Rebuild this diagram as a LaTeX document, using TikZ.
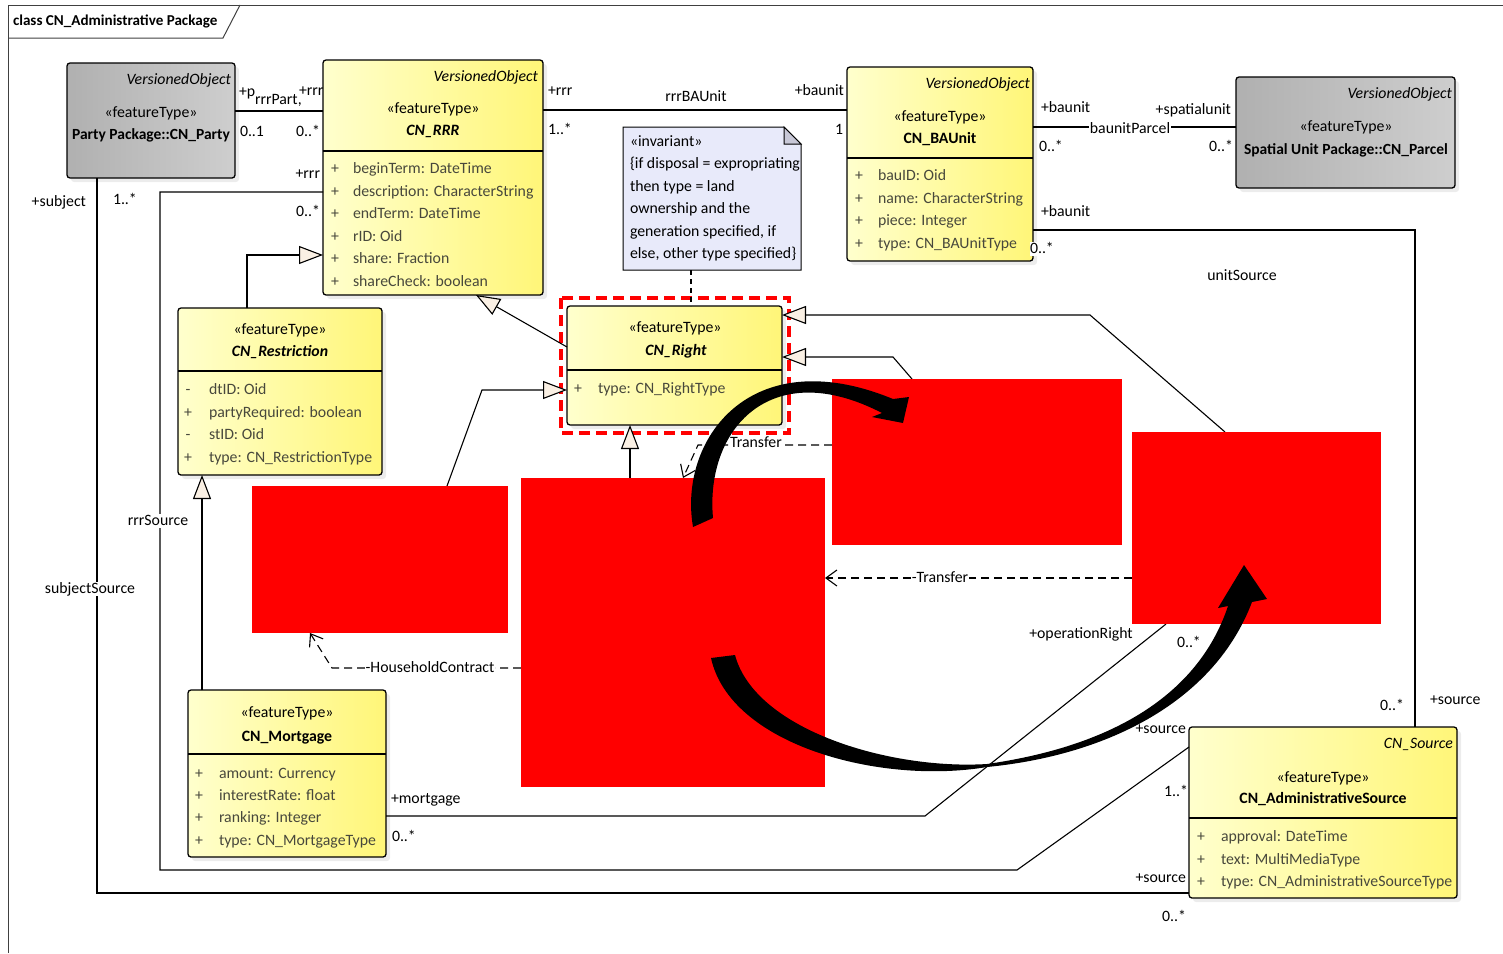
\documentclass[tikz,border=0pt]{standalone}
\usepackage{fontspec}
\setmainfont{Carlito}
\usetikzlibrary{arrows.meta,shadows,calc}
\pgfdeclarelayer{front}
\pgfsetlayers{main,front}
\definecolor{yelL}{RGB}{255,255,205}
\definecolor{yelR}{RGB}{255,246,120}
\definecolor{grayL}{RGB}{206,206,206}
\definecolor{grayR}{RGB}{176,176,176}
\definecolor{genfill}{RGB}{250,240,228}
\definecolor{notefill}{RGB}{232,234,250}
\definecolor{notefold}{RGB}{200,200,215}
\definecolor{attrc}{RGB}{72,72,60}
\definecolor{redact}{RGB}{255,0,0}
\newcommand{\UA}[6]{\node[attr] (#1m) at (#2,#4) {#5}; \node[attr,anchor=west] (#1t) at (#3,#4) {#6};}
\begin{document}
\begin{tikzpicture}[x=1pt,y=-1pt, font=\fontsize{15.8}{19}\selectfont,
  box/.style={draw=black, line width=1.3pt, rounded corners=3pt, inner sep=0pt, outer sep=0pt, anchor=north west,
    drop shadow={shadow xshift=4pt,shadow yshift=-4pt,fill=black!15}},
  ybox/.style={box, left color=yelL, right color=yelR},
  gbox/.style={box, left color=grayR, right color=grayL},
  txt/.style={inner sep=0pt, outer sep=0pt, text height=11pt, text depth=3pt},
  attr/.style={txt, text=attrc},
  hdr/.style={txt, text=black},
  lbl/.style={txt, text=black},
  wlbl/.style={txt, text=black, fill=white, inner xsep=1pt},
  conn/.style={line width=1.1pt},
  gen/.style={conn, -{Triangle[length=24pt,width=18pt,fill=genfill]}},
  dep/.style={conn, dash pattern=on 8pt off 5pt, -{Straight Barb[length=11pt,width=16pt]}},
  redbox/.style={fill=redact, draw=none, inner sep=0pt, outer sep=0pt, anchor=north west},
  divl/.style={line width=1.3pt},
]
\useasboundingbox (0,0) rectangle (1503,953);
% frame
\draw[line width=1pt, black!75] (8,953) -- (8,5) -- (1503,5);
\draw[line width=1pt, black!75] (8,38) -- (223,38) -- (240,5);
\node[lbl, anchor=west, font=\fontsize{15.1}{17}\selectfont\bfseries] (title) at (13,21) {class CN\_Administrative Package};

% front layer: redactions and swooshes
\begin{pgfonlayer}{front}
\node[redbox, minimum width=256pt, minimum height=147pt] (r1) at (252,486) {};
\node[redbox, minimum width=304pt, minimum height=309pt] (r2) at (521,478) {};
\node[redbox, minimum width=290pt, minimum height=166pt] (r3) at (832,379) {};
\node[redbox, minimum width=249pt, minimum height=192pt] (r4) at (1132,432) {};
\fill[black] (693,527) .. controls (678,440) and (750,340) .. (893,399) -- (909,397) -- (903,423) -- (872,417) -- (882,413)
  .. controls (770,355) and (705,430) .. (713,518) -- cycle;
\fill[black] (711,658) .. controls (730,745) and (880,785) .. (987,767) .. controls (1110,755) and (1215,700) .. (1252,602)
  -- (1267,599) -- (1244,565) -- (1218,608) -- (1228,606)
  .. controls (1200,690) and (1120,745) .. (987,764) .. controls (890,770) and (755,730) .. (735,655) -- cycle;
\end{pgfonlayer}

% boxes
\node[gbox, minimum width=168pt, minimum height=115pt] (party) at (67,63) {};
\node[ybox, minimum width=220pt, minimum height=235pt] (rrr) at (323,60) {};
\node[ybox, minimum width=186pt, minimum height=194pt] (baunit) at (847,67) {};
\node[gbox, minimum width=219pt, minimum height=111pt] (parcel) at (1236,77) {};
\draw[red, line width=4pt, dash pattern=on 11pt off 6pt] (561,298) rectangle (789,433);
\node[ybox, minimum width=215pt, minimum height=119pt] (right) at (567,306) {};
\node[ybox, minimum width=204pt, minimum height=167pt] (restr) at (178,308) {};
\node[ybox, minimum width=198pt, minimum height=167pt] (mort) at (188,690) {};
\node[ybox, minimum width=268pt, minimum height=171pt] (src) at (1189,727) {};

% dividers
\draw[divl] (rrr.west |- 0,151) -- (rrr.east |- 0,151);
\draw[divl] (baunit.west |- 0,158) -- (baunit.east |- 0,158);
\draw[divl] (right.west |- 0,370) -- (right.east |- 0,370);
\draw[divl] (restr.west |- 0,371) -- (restr.east |- 0,371);
\draw[divl] (mort.west |- 0,754) -- (mort.east |- 0,754);
\draw[divl] (src.west |- 0,818) -- (src.east |- 0,818);

% note
\node[inner sep=0pt, outer sep=0pt, minimum width=178pt, minimum height=143pt, anchor=north west] (note) at (623,127) {};
\draw[line width=1pt, fill=notefill] (note.north west) -- ([xshift=-17pt]note.north east) -- ([yshift=-17pt]note.north east) -- (note.south east) -- (note.south west) -- cycle;
\draw[line width=1pt, fill=notefold] ([xshift=-17pt]note.north east) -- ([xshift=-17pt,yshift=-17pt]note.north east) -- ([yshift=-17pt]note.north east) -- cycle;
\node[lbl, anchor=west] (n1) at (630,142) {«invariant»};
\node[lbl, anchor=west] (n2) at (630,164) {\{if disposal = expropriating};
\node[lbl, anchor=west] (n3) at (630,187) {then type = land};
\node[lbl, anchor=west] (n4) at (630,209) {ownership and the};
\node[lbl, anchor=west] (n5) at (630,232) {generation specified, if};
\node[lbl, anchor=west] (n6) at (630,254) {else, other type specified\}};
\draw[conn, dash pattern=on 5pt off 4pt] (note.south -| 691,0) -- (right.north -| 691,0);

% box headers
\node[hdr, anchor=east, font=\fontsize{15.8}{19}\selectfont\itshape] (ph1) at (231,80) {VersionedObject};
\node[hdr] (ph2) at (151,113) {«featureType»};
\node[hdr, font=\fontsize{15.5}{19}\selectfont\bfseries] (ph3) at (151,135) {Party Package::CN\_Party};

\node[hdr, anchor=east, font=\fontsize{15.8}{19}\selectfont\itshape] (rh1) at (538,77) {VersionedObject};
\node[hdr] (rh2) at (433,109) {«featureType»};
\node[hdr, font=\fontsize{15.8}{19}\selectfont\bfseries\itshape] (rh3) at (433,131) {CN\_RRR};

\node[hdr, anchor=east, font=\fontsize{15.8}{19}\selectfont\itshape] (bh1) at (1030,84) {VersionedObject};
\node[hdr] (bh2) at (940,117) {«featureType»};
\node[hdr, font=\fontsize{15.8}{19}\selectfont\bfseries] (bh3) at (940,139) {CN\_BAUnit};

\node[hdr, anchor=east, font=\fontsize{15.8}{19}\selectfont\itshape] (sh1) at (1452,94) {VersionedObject};
\node[hdr] (sh2) at (1346,127) {«featureType»};
\node[hdr, font=\fontsize{15.5}{19}\selectfont\bfseries] (sh3) at (1346,150) {Spatial Unit Package::CN\_Parcel};

\node[hdr] (gh2) at (675,328) {«featureType»};
\node[hdr, font=\fontsize{15.8}{19}\selectfont\bfseries\itshape] (gh3) at (676,351) {CN\_Right};

\node[hdr] (th2) at (280,330) {«featureType»};
\node[hdr, font=\fontsize{15.8}{19}\selectfont\bfseries\itshape] (th3) at (280,352) {CN\_Restriction};

\node[hdr] (mh2) at (287,713) {«featureType»};
\node[hdr, font=\fontsize{15.8}{19}\selectfont\bfseries] (mh3) at (287,737) {CN\_Mortgage};

\node[hdr, anchor=east, font=\fontsize{15.8}{19}\selectfont\itshape] (ah1) at (1453,744) {CN\_Source};
\node[hdr] (ah2) at (1323,778) {«featureType»};
\node[hdr, font=\fontsize{15.8}{19}\selectfont\bfseries] (ah3) at (1323,799) {CN\_AdministrativeSource};

% attributes
\UA{ra1}{335}{353}{169}{+}{beginTerm: DateTime}
\UA{ra2}{335}{353}{192}{+}{description: CharacterString}
\UA{ra3}{335}{353}{214}{+}{endTerm: DateTime}
\UA{ra4}{335}{353}{237}{+}{rID: Oid}
\UA{ra5}{335}{353}{259}{+}{share: Fraction}
\UA{ra6}{335}{353}{282}{+}{shareCheck: boolean}
\UA{ba1}{859}{878}{176}{+}{bauID: Oid}
\UA{ba2}{859}{878}{199}{+}{name: CharacterString}
\UA{ba3}{859}{878}{221}{+}{piece: Integer}
\UA{ba4}{859}{878}{244}{+}{type: CN\_BAUnitType}
\UA{ga1}{578}{598}{389}{+}{type: CN\_RightType}
\UA{ta1}{188}{209}{390}{-}{dtID: Oid}
\UA{ta2}{188}{209}{413}{+}{partyRequired: boolean}
\UA{ta3}{188}{209}{435}{-}{stID: Oid}
\UA{ta4}{188}{209}{458}{+}{type: CN\_RestrictionType}
\UA{ma1}{199}{219}{774}{+}{amount: Currency}
\UA{ma2}{199}{219}{796}{+}{interestRate: float}
\UA{ma3}{199}{219}{818}{+}{ranking: Integer}
\UA{ma4}{199}{219}{841}{+}{type: CN\_MortgageType}
\UA{aa1}{1201}{1221}{837}{+}{approval: DateTime}
\UA{aa2}{1201}{1221}{860}{+}{text: MultiMediaType}
\UA{aa3}{1201}{1221}{882}{+}{type: CN\_AdministrativeSourceType}

% associations
\draw[conn] (party.east |- 0,111) -- (rrr.west |- 0,111);
\draw[conn] (rrr.east |- 0,110) -- (baunit.west |- 0,110);
\draw[conn] (baunit.east |- 0,127) -- (parcel.west |- 0,127);
\draw[conn] (baunit.east |- 0,230) -| (src.north -| 1415,0);
\draw[conn] (rrr.west |- 0,192) -| (160,870) -- (1017,870) -- (src.west |- 0,747);
\draw[conn] (party.south -| 97,0) |- (src.west |- 0,893);
\draw[conn] (mort.east |- 0,816) -- (925,816) -- (r4.south -| 1166,0);

% generalizations
\draw[gen] (restr.north -| 247,0) |- (rrr.west |- 0,255);
\draw[gen] (right.west |- 0,347) -- (rrr.south -| 476,0);
\draw[gen] (r1.north -| 447,0) -- (482,390) -- (right.west |- 0,390);
\draw[gen] (r2.north -| 630,0) -- (right.south -| 630,0);
\draw[gen] (r3.north -| 912,0) -- (893,357) -- (right.east |- 0,357);
\draw[gen] (r4.north -| 1225,0) -- (1090,315) -- (right.east |- 0,315);
\draw[gen] (mort.north -| 202,0) -- (restr.south -| 202,0);

% dependencies
\draw[dep] (r3.west |- 0,445) -- (698,445) -- (r2.north -| 683,0);
\draw[dep] (r4.west |- 0,578) -- (r2.east |- 0,578);
\draw[dep] (r2.west |- 0,668) -- (332,668) -- (r1.south -| 310,0);

% connector labels
\node[lbl, anchor=west] (l1) at (239,92) {+p};
\node[lbl, anchor=west] (l2) at (255,100) {rrrPart,};
\node[lbl, anchor=west] (l3) at (299,91) {+rrr};
\node[lbl, anchor=west] (l4) at (240,132) {0..1};
\node[lbl, anchor=east] (l5) at (320,132) {0..*};
\node[lbl, anchor=east] (l6) at (320,174) {+rrr};
\node[lbl, anchor=east] (l7) at (320,212) {0..*};
\node[lbl, anchor=east] (l8) at (86,202) {+subject};
\node[lbl, anchor=west] (l9) at (113,200) {1..*};
\node[lbl, anchor=west] (l10) at (548,91) {+rrr};
\node[lbl] (l11) at (696,97) {rrrBAUnit};
\node[lbl, anchor=east] (l12) at (844,91) {+baunit};
\node[lbl, anchor=west] (l13) at (548,130) {1..*};
\node[lbl, anchor=east] (l14) at (843,130) {1};
\node[lbl, anchor=west] (l15) at (1041,108) {+baunit};
\node[lbl, anchor=east] (l16) at (1231,110) {+spatialunit};
\node[wlbl] (l17) at (1130,129) {baunitParcel};
\node[lbl, anchor=west] (l18) at (1039,147) {0..*};
\node[lbl, anchor=east] (l19) at (1233,147) {0..*};
\node[lbl, anchor=west] (l20) at (1041,212) {+baunit};
\node[wlbl, anchor=west, inner xsep=0pt] (l21) at (1030,249) {0..*};
\node[lbl] (l22) at (1242,276) {unitSource};
\node[lbl, anchor=east] (l23) at (1404,706) {0..*};
\node[lbl, anchor=west] (l24) at (1430,700) {+source};
\node[wlbl] (l25) at (158,521) {rrrSource};
\node[wlbl] (l26) at (90,589) {subjectSource};
\node[lbl, anchor=west] (l27) at (391,799) {+mortgage};
\node[lbl, anchor=west] (l28) at (392,837) {0..*};
\node[lbl] (l29) at (1081,634) {+operationRight};
\node[lbl, anchor=west] (l30) at (1177,643) {0..*};
\node[lbl, anchor=east] (l31) at (1186,729) {+source};
\node[lbl, anchor=east] (l32) at (1188,792) {1..*};
\node[lbl, anchor=east] (l33) at (1186,878) {+source};
\node[lbl, anchor=east] (l34) at (1186,917) {0..*};
\node[wlbl] (l35) at (756,443) {Transfer};
\node[wlbl] (l36) at (940,578) {-Transfer};
\node[wlbl] (l37) at (430,668) {-HouseholdContract};
\end{tikzpicture}
\end{document}
